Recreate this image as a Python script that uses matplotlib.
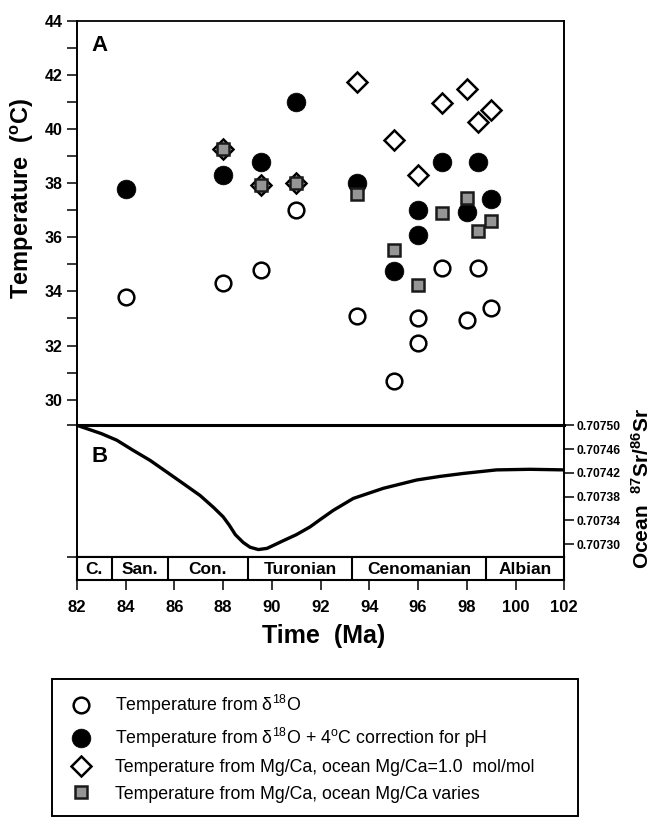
import numpy as np
import matplotlib
matplotlib.use("Agg")
import matplotlib.pyplot as plt
from matplotlib.ticker import FormatStrFormatter

plt.rcParams['font.family'] = ['Liberation Sans', 'DejaVu Sans']
plt.rcParams['mathtext.fontset'] = 'custom'
plt.rcParams['mathtext.rm'] = 'Liberation Sans'
plt.rcParams['mathtext.it'] = 'Liberation Sans:italic'
plt.rcParams['mathtext.bf'] = 'Liberation Sans:bold'

# temperatures (age in Ma, temp in oC)
d18o_age = [84.0, 88.0, 89.55, 91.0, 93.5, 95.0, 96.0, 96.0, 97.0, 98.0, 98.45, 99.0]
d18o_temp = [33.8, 34.3, 34.8, 37.0, 33.1, 30.7, 33.0, 32.1, 34.85, 32.95, 34.85, 33.4]

ph_age = [84.0, 88.0, 89.55, 91.0, 93.5, 95.0, 96.0, 96.0, 97.0, 98.0, 98.45, 99.0]
ph_temp = [37.8, 38.3, 38.8, 41.0, 38.0, 34.75, 37.0, 36.1, 38.8, 36.95, 38.8, 37.4]

mgca_age = [88.0, 89.55, 91.0, 93.5, 95.0, 96.0, 97.0, 98.0, 98.45, 99.0]
mgca_temp = [39.25, 37.95, 38.0, 41.75, 39.6, 38.3, 40.95, 41.5, 40.25, 40.7]

mgvar_age = [88.0, 89.55, 91.0, 93.5, 95.0, 96.0, 97.0, 98.0, 98.45, 99.0]
mgvar_temp = [39.25, 37.95, 38.0, 37.6, 35.55, 34.25, 36.9, 37.45, 36.25, 36.6]

# seawater 87Sr/86Sr curve
sr_age = [82.0, 83.0, 83.63, 84.3, 85.0, 85.7, 86.36, 87.05, 87.6, 88.0, 88.25,
          88.5, 88.82, 89.1, 89.44, 89.8, 90.47, 91.0, 91.56, 92.0, 92.52,
          93.34, 94.57, 95.94, 96.89, 97.85, 99.22, 100.59, 102.0]
sr_ratio = [0.707500, 0.707486, 0.707475, 0.707458, 0.707441, 0.707421, 0.707402,
            0.707382, 0.707362, 0.707346, 0.707332, 0.707316, 0.707303, 0.707295,
            0.707291, 0.707293, 0.707306, 0.707316, 0.707329, 0.707342, 0.707357,
            0.707377, 0.707394, 0.707408, 0.707414, 0.707419, 0.707425, 0.707426,
            0.707425]

# stages
stage_names = ['C.', 'San.', 'Con.', 'Turonian', 'Cenomanian', 'Albian']
stage_bounds = [82.0, 83.42, 85.75, 89.0, 93.3, 98.8, 102.0]

legend_labels = [
    r'Temperature from δ$^{18}$O',
    r'Temperature from δ$^{18}$O + 4$^{\mathrm{o}}$C correction for pH',
    'Temperature from Mg/Ca, ocean Mg/Ca=1.0  mol/mol',
    'Temperature from Mg/Ca, ocean Mg/Ca varies',
]

W, H = 653, 819
fig = plt.figure(figsize=(W / 100, H / 100), dpi=100)


def box(x0, y0, x1, y1):
    return [x0 / W, 1 - y1 / H, (x1 - x0) / W, (y1 - y0) / H]


ax_top = fig.add_axes(box(77, 21, 564.3, 425.3))
ax_sr = fig.add_axes(box(77, 425.3, 564.3, 556.7))
ax_st = fig.add_axes(box(77, 556.7, 564.3, 580))

# panel A
h1, = ax_top.plot(d18o_age, d18o_temp, 'o', ls='none', ms=11.3, mfc='white',
                  mec='black', mew=1.8, zorder=3)
h3, = ax_top.plot(mgca_age, mgca_temp, 'D', ls='none', ms=10.4, mfc='white',
                  mec='black', mew=1.8, zorder=3)
h2, = ax_top.plot(ph_age, ph_temp, 'o', ls='none', ms=13.5, mfc='black',
                  mec='black', mew=0.5, zorder=4)
h4, = ax_top.plot(mgvar_age, mgvar_temp, 's', ls='none', ms=8.3, mfc='#959595',
                  mec='#1a1a1a', mew=1.8, zorder=5)

ax_top.set_xlim(82, 102)
ax_top.set_ylim(29.05, 44)
ax_top.set_yticks(np.arange(30, 45, 2))
ax_top.set_yticks([29.05] + list(np.arange(31, 44, 2)), minor=True)
ax_top.tick_params(axis='y', which='both', direction='out', length=7.2,
                   width=1.1, labelsize=11.5, pad=3)
ax_top.tick_params(axis='x', bottom=False, labelbottom=False)
ax_top.spines['bottom'].set_visible(False)
ax_top.spines['left'].set_linewidth(1.4)
ax_top.spines['top'].set_linewidth(1.3)
ax_top.spines['right'].set_linewidth(1.4)
for lbl in ax_top.get_yticklabels():
    lbl.set_fontweight('bold')
ax_top.text(0.047, 0.94, 'A', transform=ax_top.transAxes, ha='center',
            va='center', fontsize=16, fontweight='bold')

# panel B
ax_sr.plot(sr_age, sr_ratio, color='black', lw=2.4, solid_joinstyle='round',
           solid_capstyle='round')
ax_sr.set_xlim(82, 102)
ax_sr.set_ylim(0.707279, 0.70750)
ax_sr.yaxis.tick_right()
ax_sr.set_yticks(np.linspace(0.70730, 0.70750, 6))
ax_sr.yaxis.set_major_formatter(FormatStrFormatter('%.5f'))
ax_sr.tick_params(axis='y', direction='out', length=7.2, width=1.1,
                  labelsize=8.7, pad=1.5)
ax_sr.tick_params(axis='x', bottom=False, labelbottom=False)
ax_sr.spines['top'].set_linewidth(2.2)
ax_sr.spines['left'].set_linewidth(1.4)
ax_sr.spines['right'].set_linewidth(1.4)
ax_sr.spines['bottom'].set_linewidth(1.5)
for lbl in ax_sr.get_yticklabels():
    lbl.set_fontweight('bold')
ax_sr.text(0.047, 0.76, 'B', transform=ax_sr.transAxes, ha='center',
           va='center', fontsize=16, fontweight='bold')

# stage bar
ax_st.set_xlim(82, 102)
ax_st.set_ylim(0, 1)
for b in stage_bounds[1:-1]:
    ax_st.axvline(b, color='black', lw=1.5)
for i, name in enumerate(stage_names):
    ax_st.text((stage_bounds[i] + stage_bounds[i + 1]) / 2, 0.47, name,
               ha='center', va='center', fontsize=12.5, fontweight='bold')
ax_st.set_xticks(np.arange(82, 103, 2))
ax_st.set_yticks([1])
ax_st.set_yticklabels([])
ax_st.tick_params(axis='x', direction='out', length=7.2, width=1.1,
                  labelsize=12, pad=7.5)
ax_st.tick_params(axis='y', direction='out', length=7.2, width=1.1)
for lbl in ax_st.get_xticklabels():
    lbl.set_fontweight('bold')
for s in ax_st.spines.values():
    s.set_linewidth(1.5)

fig.text(22 / W, 1 - 199 / H, r'Temperature  ($^{\mathbf{o}}$C)', rotation=90,
         ha='center', va='center', fontsize=17, fontweight='bold')
fig.text(324 / W, 1 - 636 / H, 'Time  (Ma)', ha='center', va='center',
         fontsize=18, fontweight='bold')
fig.text(652.5 / W, 1 - 489 / H, r'Ocean  $^{\mathbf{87}}$Sr/$^{\mathbf{86}}$Sr',
         rotation=90, ha='right', va='center', fontsize=15, fontweight='bold')

x0, x1, ytop = 51.7 / W, 578.3 / W, 1 - 679.3 / H
leg = fig.legend([h1, h2, h3, h4], legend_labels, loc='upper left',
                 bbox_to_anchor=(x0, ytop - 0.2, x1 - x0, 0.2), mode='expand',
                 borderaxespad=0, numpoints=1, prop={'size': 12.8},
                 fancybox=False, framealpha=1, edgecolor='black',
                 borderpad=0.75, labelspacing=0.52, handlelength=1.85,
                 handletextpad=0.95)
leg.get_frame().set_linewidth(1.4)

fig.savefig('out.png', dpi=100)
